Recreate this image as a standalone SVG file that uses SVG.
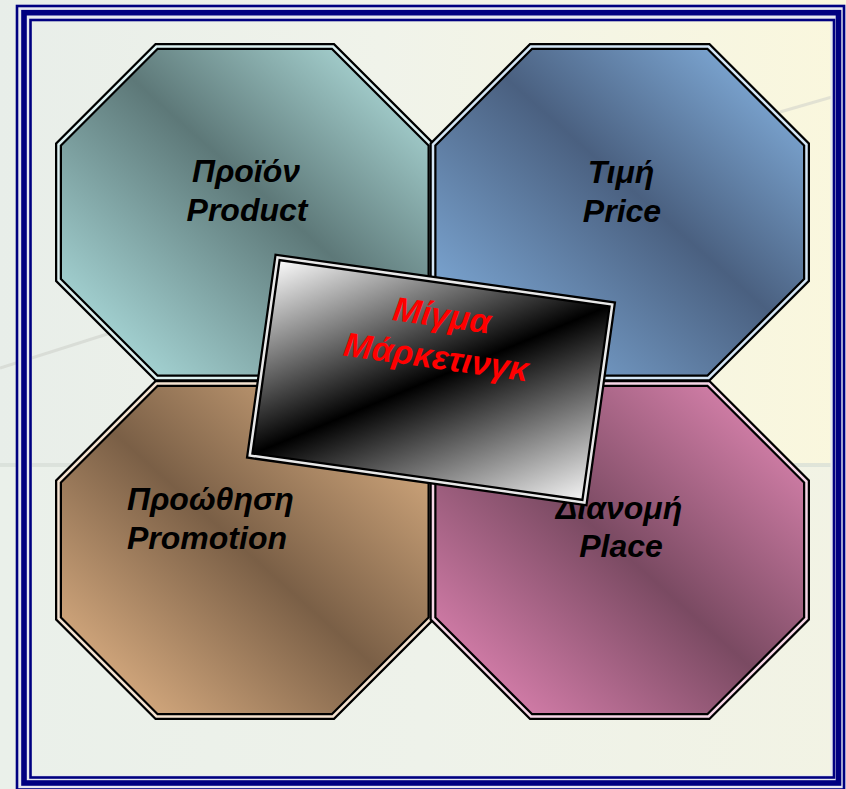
<svg xmlns="http://www.w3.org/2000/svg" width="846" height="789" viewBox="0 0 846 789">
<defs>
<linearGradient id="bgTop" x1="0" y1="0" x2="1" y2="0">
<stop offset="0" stop-color="#e8eee9"/>
<stop offset="0.45" stop-color="#f0f3ea"/>
<stop offset="1" stop-color="#faf7dd"/>
</linearGradient>
<linearGradient id="bgBot" x1="0" y1="0" x2="1" y2="0">
<stop offset="0" stop-color="#eaf0ea"/>
<stop offset="0.5" stop-color="#eef2ea"/>
<stop offset="1" stop-color="#f2f3e4"/>
</linearGradient>
<linearGradient id="gProduct" x1="0" y1="1" x2="1" y2="0">
<stop offset="0" stop-color="#b8ecec"/>
<stop offset="0.55" stop-color="#5d7878"/>
<stop offset="1" stop-color="#bcecea"/>
</linearGradient>
<linearGradient id="gPrice" x1="0" y1="1" x2="1" y2="0">
<stop offset="0" stop-color="#8abaea"/>
<stop offset="0.55" stop-color="#4a6080"/>
<stop offset="1" stop-color="#8cbcec"/>
</linearGradient>
<linearGradient id="gPromo" x1="0" y1="1" x2="1" y2="0">
<stop offset="0" stop-color="#eebe8e"/>
<stop offset="0.5" stop-color="#7a5f46"/>
<stop offset="1" stop-color="#eabc8c"/>
</linearGradient>
<linearGradient id="gPlace" x1="0" y1="1" x2="1" y2="0">
<stop offset="0" stop-color="#ee8cbe"/>
<stop offset="0.5" stop-color="#7a4a62"/>
<stop offset="1" stop-color="#ec8ebc"/>
</linearGradient>
<linearGradient id="gCard" x1="0" y1="0" x2="1" y2="1">
<stop offset="0" stop-color="#ffffff"/>
<stop offset="0.5" stop-color="#000000"/>
<stop offset="1" stop-color="#f8f8f8"/>
</linearGradient>
<style>
.edge{fill:none;stroke:#000;stroke-width:7;stroke-linejoin:miter}
.gap{fill:none;stroke-width:2.5;stroke-linejoin:miter}
.lbl{font-family:"Liberation Sans",Arial,sans-serif;font-weight:bold;font-style:italic;font-size:32px;fill:#000}
.mix{font-family:"Liberation Sans",Arial,sans-serif;font-weight:bold;font-style:italic;font-size:34px;fill:#ff0000;text-anchor:middle}
.navy{fill:none;stroke:#000080}
</style>
</defs>

<g id="background">
<rect x="0" y="0" width="846" height="466" fill="url(#bgTop)"/>
<rect x="0" y="466" width="846" height="323" fill="url(#bgBot)"/>
<rect x="0" y="463" width="846" height="4" fill="#d6ddd6" opacity="0.7"/>
<path d="M0,368 L120,330 L260,290" fill="none" stroke="#d4d8d2" stroke-width="3" opacity="0.8"/>
<path d="M780,112 L846,93" fill="none" stroke="#dcdcd0" stroke-width="3" opacity="0.8"/>
</g>

<g id="frame">
<rect x="24" y="12.7" width="814.5" height="770.3" fill="none" stroke="#e6e8f0" stroke-width="16"/>
<rect x="17" y="6" width="827" height="783.5" class="navy" stroke-width="2.6"/>
<rect x="24" y="12.7" width="814.5" height="770.3" class="navy" stroke-width="5.6"/>
<rect x="30.5" y="20" width="803.5" height="757.5" class="navy" stroke-width="2.6"/>
</g>

<g id="product">
<path d="M156.5,46.5 L333,46.5 L431,144.5 L431,280 L333,378 L156.5,378 L58.5,280 L58.5,144.5 Z" fill="url(#gProduct)"/>
<path d="M156.5,46.5 L333,46.5 L431,144.5 L431,280 L333,378 L156.5,378 L58.5,280 L58.5,144.5 Z" class="edge"/>
<path d="M156.5,46.5 L333,46.5 L431,144.5 L431,280 L333,378 L156.5,378 L58.5,280 L58.5,144.5 Z" class="gap" stroke="#dcf0f0"/>
<text class="lbl" x="246" y="182" text-anchor="middle">Προϊόν</text>
<text class="lbl" x="247" y="221" text-anchor="middle">Product</text>
</g>

<g id="price">
<path d="M531,46.5 L708.5,46.5 L806.5,144.5 L806.5,280 L708.5,378 L531,378 L433,280 L433,144.5 Z" fill="url(#gPrice)"/>
<path d="M531,46.5 L708.5,46.5 L806.5,144.5 L806.5,280 L708.5,378 L531,378 L433,280 L433,144.5 Z" class="edge"/>
<path d="M531,46.5 L708.5,46.5 L806.5,144.5 L806.5,280 L708.5,378 L531,378 L433,280 L433,144.5 Z" class="gap" stroke="#d4e6f6"/>
<text class="lbl" x="621" y="183" text-anchor="middle">Τιμή</text>
<text class="lbl" x="622" y="222" text-anchor="middle">Price</text>
</g>

<g id="promotion">
<path d="M156.5,383.5 L333,383.5 L431,481.5 L431,618.5 L333,716.5 L156.5,716.5 L58.5,618.5 L58.5,481.5 Z" fill="url(#gPromo)"/>
<path d="M156.5,383.5 L333,383.5 L431,481.5 L431,618.5 L333,716.5 L156.5,716.5 L58.5,618.5 L58.5,481.5 Z" class="edge"/>
<path d="M156.5,383.5 L333,383.5 L431,481.5 L431,618.5 L333,716.5 L156.5,716.5 L58.5,618.5 L58.5,481.5 Z" class="gap" stroke="#f4e2d0"/>
<text class="lbl" x="127" y="510">Προώθηση</text>
<text class="lbl" x="127" y="549">Promotion</text>
</g>

<g id="place">
<path d="M531,383.5 L708.5,383.5 L806.5,481.5 L806.5,618.5 L708.5,716.5 L531,716.5 L433,618.5 L433,481.5 Z" fill="url(#gPlace)"/>
<path d="M531,383.5 L708.5,383.5 L806.5,481.5 L806.5,618.5 L708.5,716.5 L531,716.5 L433,618.5 L433,481.5 Z" class="edge"/>
<path d="M531,383.5 L708.5,383.5 L806.5,481.5 L806.5,618.5 L708.5,716.5 L531,716.5 L433,618.5 L433,481.5 Z" class="gap" stroke="#f6d6e6"/>
<text class="lbl" x="619" y="519" text-anchor="middle">Διανομή</text>
<text class="lbl" x="621" y="557" text-anchor="middle">Place</text>
</g>

<g id="marketing-mix" transform="translate(431,380) rotate(8)">
<rect x="-169" y="-100" width="338" height="200" fill="url(#gCard)"/>
<rect x="-169" y="-100" width="338" height="200" class="edge"/>
<rect x="-169" y="-100" width="338" height="200" class="gap" stroke="#e8e8e8"/>
<text class="mix" x="2" y="-54">Μίγμα</text>
<text class="mix" x="2" y="-12">Μάρκετινγκ</text>
</g>
</svg>
